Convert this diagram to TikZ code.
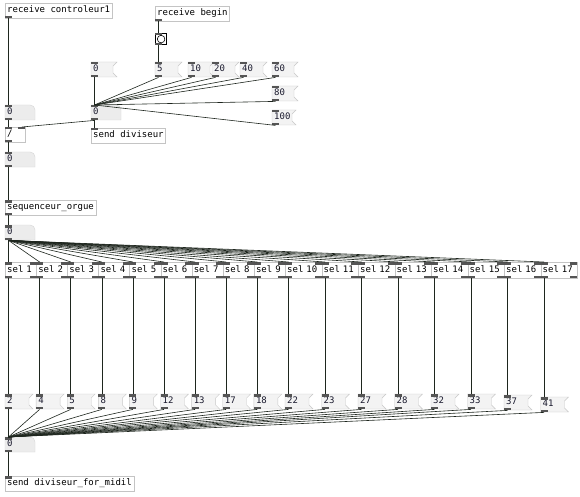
\documentclass[tikz,border=0pt]{standalone}
\usepackage{fontspec}
\setmonofont{DejaVu Sans Mono}
\definecolor{objline}{HTML}{C4C4C4}
\definecolor{msgfill}{HTML}{F3F3F3}
\definecolor{msgline}{HTML}{C8C8C8}
\definecolor{atomfill}{HTML}{ECECEC}
\definecolor{atomline}{HTML}{D6D6D6}
\definecolor{portcol}{HTML}{555555}
\definecolor{wirecol}{HTML}{1E261E}
\definecolor{textcol}{HTML}{1A1A2E}
\begin{document}
\begin{tikzpicture}[x=1pt,y=-1pt,
	font=\ttfamily\fontsize{9}{10}\selectfont,
	box/.style={draw=objline, fill=white, anchor=north west, inner xsep=2pt, inner ysep=0pt, minimum height=15, text height=6.5pt, text depth=2pt},
	txt/.style={anchor=north west, inner xsep=2pt, inner ysep=0pt, minimum height=15, text height=6.5pt, text depth=2pt, text=textcol},
	msg/.style={fill=msgfill, draw=msgline},
	atom/.style={fill=atomfill, draw=atomline},
	port/.style={fill=portcol},
	wire/.style={draw=wirecol, line width=0.6pt}]
			
			\useasboundingbox[fill=white] (0,0) rectangle (580,497);
			
			% objets
			\node[box] (rc) at (5,3) {receive controleur1};
			\node[box] (rb) at (155,6) {receive begin};
			\node[box, text width=16pt] (div) at (5,127) {/};
			\node[box] (sdiv) at (91,128) {send diviseur};
			\node[box] (seq) at (5,200) {sequenceur\_orgue};
			\node[box] (sd) at (5,476) {send diviseur\_for\_midil};
			
			% bang
			\node[draw=black, line width=1.2pt, fill=white, minimum size=11, inner sep=0pt, anchor=north west] (bang) at (155,33) {};
			\draw[line width=0.6pt] (bang.center) circle (3.8pt);
			
			% nombres
			\foreach \nm/\x/\y in {n1/5/105, nd/91/105, n2/5/152, n3/5/225, n4/5/437} {
				\draw[atom] (\x,\y+15) -- (\x,\y) -- (\x+25,\y) .. controls (\x+28,\y) and (\x+30,\y+2) .. (\x+30,\y+5) -- (\x+30,\y+15) -- cycle;
				\node[txt] (\nm) at (\x,\y) {0};
			}
			
			% messages
			\foreach \nm/\x/\y/\w/\v in {t1/91/62/26/0, t2/155/62/27/5, t3/188/62/26/10, t4/212/62/27/20, t5/240/62/27/40, t6/272/62/26/60, t7/272/86/26/80, t8/272/110/24/100} {
				\draw[msg] (\x,\y) -- (\x+\w,\y) -- (\x+\w-4,\y+4) -- (\x+\w-4,\y+11) -- (\x+\w,\y+15) -- (\x,\y+15) -- cycle;
				\node[txt] (\nm) at (\x,\y) {\v};
			}
			
			% sel + messages
			\foreach \v [count=\i] in {2,4,5,8,9,12,13,17,18,22,23,27,28,32,33,37,41} {
				\pgfmathsetmacro\xx{\i<10 ? 5+31.1*(\i-1) : 285+36.5*(\i-10)}
				\pgfmathsetmacro\ww{\i<10 ? 31.1 : 36.5}
				\pgfmathsetmacro\tw{\ww-4}
				\pgfmathsetmacro\yy{\i==16 ? 395 : (\i==17 ? 397 : 394)}
				\node[box, text width=\tw pt, minimum height=16] (s\i) at (\xx,262) {sel \i};
				\draw[msg] (\xx,\yy) -- (\xx+28,\yy) -- (\xx+24,\yy+4) -- (\xx+24,\yy+11) -- (\xx+28,\yy+15) -- (\xx,\yy+15) -- cycle;
				\node[txt] (m\i) at (\xx,\yy) {\v};
			}
			
			% ports
			\foreach \n in {rc, rb, bang, seq, div, n1, nd, n2, n3, n4, t1, t2, t3, t4, t5, t6, t7, t8} {
				\fill[port] (\n.south west) rectangle ++(7,-2.5);
			}
			\foreach \n in {bang, seq, div, sdiv, sd, n1, nd, n2, n3, n4, t1, t2, t3, t4, t5, t6, t7, t8} {
				\fill[port] (\n.north west) rectangle ++(7,2.5);
			}
			\fill[port] (div.north east) rectangle ++(-7,2.5);
			\foreach \i in {1,...,17} {
				\fill[port] (s\i.north west) rectangle ++(7,2.5);
				\fill[port] (s\i.north east) rectangle ++(-7,2.5);
				\fill[port] (s\i.south west) rectangle ++(7,-2.5);
				\fill[port] (s\i.south east) rectangle ++(-7,-2.5);
				\fill[port] (m\i.north west) rectangle ++(7,2.5);
				\fill[port] (m\i.south west) rectangle ++(7,-2.5);
			}
			
			% liens
			\draw[wire] ([xshift=3.5]rc.south west) -- ([xshift=3.5]n1.north west);
			\draw[wire] ([xshift=3.5]n1.south west) -- ([xshift=3.5]div.north west);
			\draw[wire] ([xshift=3.5]div.south west) -- ([xshift=3.5]n2.north west);
			\draw[wire] ([xshift=3.5]n2.south west) -- ([xshift=3.5]seq.north west);
			\draw[wire] ([xshift=3.5]seq.south west) -- ([xshift=3.5]n3.north west);
			\draw[wire] ([xshift=3.5]n4.south west) -- ([xshift=3.5]sd.north west);
			
			\draw[wire] ([xshift=3.5]rb.south west) -- ([xshift=3.5]bang.north west);
			\draw[wire] ([xshift=3.5]bang.south west) -- ([xshift=3.5]t2.north west);
			\foreach \t in {t1, t2, t3, t4, t5, t6, t7, t8} {
				\draw[wire] ([xshift=3.5]\t.south west) -- ([xshift=3.5]nd.north west);
			}
			\draw[wire] ([xshift=3.5]nd.south west) -- ([xshift=-3.5]div.north east);
			\draw[wire] ([xshift=3.5]nd.south west) -- ([xshift=3.5]sdiv.north west);
			
			\foreach \i in {1,...,17} {
				\draw[wire] ([xshift=3.5]n3.south west) -- ([xshift=3.5]s\i.north west);
				\draw[wire] ([xshift=3.5]s\i.south west) -- ([xshift=3.5]m\i.north west);
				\draw[wire] ([xshift=3.5]m\i.south west) -- ([xshift=3.5]n4.north west);
			}
			
		\end{tikzpicture}
\end{document}
